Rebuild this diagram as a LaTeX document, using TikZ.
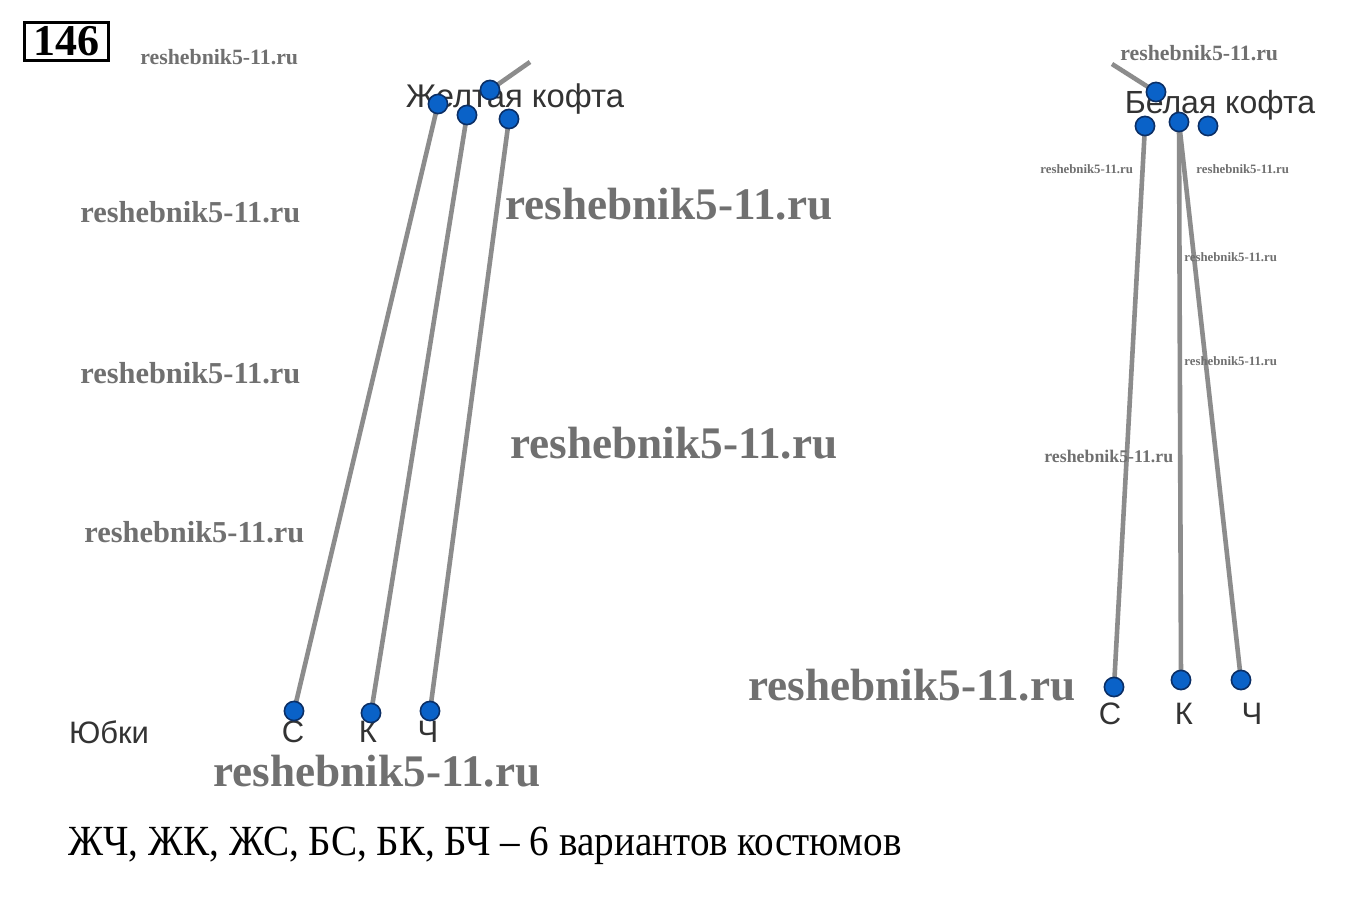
\documentclass[tikz,border=0pt]{standalone}
\usepackage{fontspec}
\setmainfont{Liberation Serif}
\newfontfamily\labelfont{Liberation Sans}
\pgfdeclarelayer{background}
\pgfsetlayers{background,main}
\definecolor{wmgray}{HTML}{707070}
\definecolor{dotblue}{HTML}{0A62C8}
\definecolor{dotedge}{HTML}{0B2F66}
\definecolor{linegray}{HTML}{8C8C8C}
\definecolor{labgray}{HTML}{333333}
\tikzset{
  wm/.style={inner sep=0pt, anchor=west, text=wmgray, font=\bfseries\fontsize{#1}{#1}\selectfont},
  dot/.style={circle, fill=dotblue, draw=dotedge, line width=0.8pt, minimum size=9.6pt, inner sep=0pt},
  conn/.style={draw=linegray, line width=2.3pt},
  lab/.style={inner sep=0pt, text=labgray, font=\labelfont\fontsize{#1}{#1}\selectfont},
  lab/.default=15.5,
  numbox/.style={draw=black, line width=1.5pt, minimum width=42pt, minimum height=19pt, inner sep=0pt, font=\bfseries\fontsize{22}{22}\selectfont},
  answer/.style={inner sep=0pt, anchor=west, font=\fontsize{21.5}{21.5}\selectfont}
}
\begin{document}
\begin{tikzpicture}[x=0.5pt,y=-0.5pt]
\begin{pgfonlayer}{background}
\fill[white] (0,0) rectangle (1357,922);
\end{pgfonlayer}
\useasboundingbox (0,0) rectangle (1357,922);

% problem number
\node[numbox] (num) at (66,41) {146};

% watermarks
\node[wm=10.9] (w1) at (140,57) {reshebnik5-11.ru};
\node[wm=15.2] (w2) at (80,212) {reshebnik5-11.ru};
\node[wm=22.6] (w3) at (505,204) {reshebnik5-11.ru};
\node[wm=15.2] (w4) at (80,373) {reshebnik5-11.ru};
\node[wm=22.6] (w5) at (510,443) {reshebnik5-11.ru};
\node[wm=15.2] (w6) at (84,532) {reshebnik5-11.ru};
\node[wm=22.6] (w7) at (213,771) {reshebnik5-11.ru};
\node[wm=22.6] (w8) at (748,685) {reshebnik5-11.ru};
\node[wm=10.9] (w9) at (1120,53) {reshebnik5-11.ru};
\node[wm=6.4] (w10) at (1040,169) {reshebnik5-11.ru};
\node[wm=6.4] (w11) at (1196,169) {reshebnik5-11.ru};
\node[wm=6.4] (w12) at (1184,257) {reshebnik5-11.ru};
\node[wm=6.4] (w13) at (1184,361) {reshebnik5-11.ru};
\node[wm=8.9] (w14) at (1044,456) {reshebnik5-11.ru};

% labels
\node[lab=16.4] (ytitle) at (515,99) {Желтая кофта};
\node[lab=16] (wtitle) at (1220,105) {Белая кофта};
\node[lab] (skirts) at (109,732) {Юбки};
\node[lab] (lS) at (293,732) {С};
\node[lab] (lK) at (368,732) {К};
\node[lab] (lCh) at (428,732) {Ч};
\node[lab] (rS) at (1110,714) {С};
\node[lab] (rK) at (1184,714) {К};
\node[lab] (rCh) at (1252,714) {Ч};

% left tree dots
\coordinate (lfree) at (530,62);
\node[dot] (ytop) at (490,90) {};
\node[dot] (y1) at (438,104) {};
\node[dot] (y2) at (467,115) {};
\node[dot] (y3) at (509,119) {};
\node[dot] (ls) at (294,711) {};
\node[dot] (lk) at (371,713) {};
\node[dot] (lch) at (430,711) {};

% right tree dots
\coordinate (rfree) at (1112,64);
\node[dot] (wtop) at (1156,92) {};
\node[dot] (b1) at (1145,126) {};
\node[dot] (b2) at (1179,122) {};
\node[dot] (b3) at (1208,126) {};
\node[dot] (rs) at (1114,687) {};
\node[dot] (rk) at (1181,680) {};
\node[dot] (rch) at (1241,680) {};

\begin{pgfonlayer}{background}
\draw[conn] (ytop.center) -- (lfree);
\draw[conn] (y1.center) -- (ls.center);
\draw[conn] (y2.center) -- (lk.center);
\draw[conn] (y3.center) -- (lch.center);
\draw[conn] (wtop.center) -- (rfree);
\draw[conn] (b1.center) -- (rs.center);
\draw[conn] (b2.center) -- (rk.center);
\draw[conn] (b2.center) -- (rch.center);
\end{pgfonlayer}

% answer
\node[answer] (ans) at (68,846) {\scalebox{0.91}[1]{ЖЧ, ЖК, ЖС, БС, БК, БЧ – 6 вариантов костюмов}};
\end{tikzpicture}
\end{document}
